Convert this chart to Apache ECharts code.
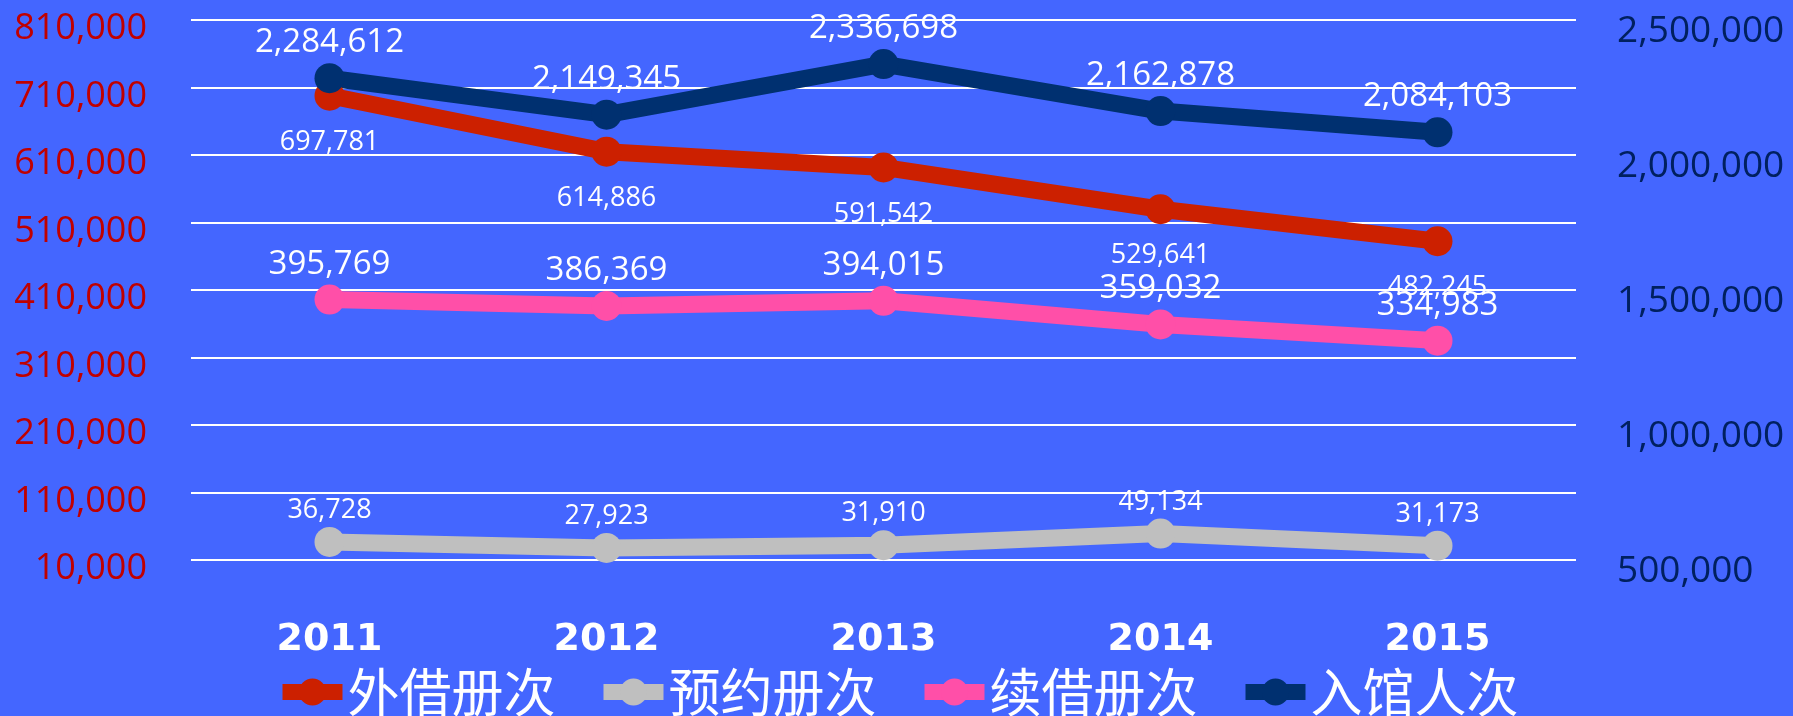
<!DOCTYPE html>
<html>
<head>
<meta charset="utf-8">
<style>
  html, body { margin: 0; padding: 0; background: #4466ff; }
  #chart { width: 1793px; height: 716px; }
</style>
<script src="https://cdn.jsdelivr.net/npm/echarts@6/dist/echarts.min.js"></script>
</head>
<body>
<div id="chart"></div>
<script>
// categories and series
const years = ['2011', '2012', '2013', '2014', '2015'];
const waijie = [697781, 614886, 591542, 529641, 482245];      // 外借册次 (left axis)
const yuyue = [36728, 27923, 31910, 49134, 31173];            // 预约册次 (left axis)
const xujie = [395769, 386369, 394015, 359032, 334983];       // 续借册次 (left axis)
const ruguan = [2284612, 2149345, 2336698, 2162878, 2084103]; // 入馆人次 (right axis)

const seriesNames = ['外借册次', '预约册次', '续借册次', '入馆人次'];

const numFont = '"Open Sans", sans-serif';
const fmt = v => v.toLocaleString('en-US');

function lineSeries(name, data, color, axis, pos, dist, size) {
    return {
        name: name,
        type: 'line',
        yAxisIndex: axis,
        data: data,
        symbol: 'circle',
        symbolSize: 30,
        lineStyle: { color: color, width: 17 },
        itemStyle: { color: color },
        label: {
            show: true,
            position: pos,
            distance: dist,
            color: '#ffffff',
            fontFamily: numFont,
            fontSize: size,
            formatter: p => fmt(p.value)
        },
        emphasis: { disabled: true },
        animation: false
    };
}

// axis labels sit a little below their grid line in the reference,
// so push them down with a padded rich block
function axisLabel(color, size, margin, shift) {
    return {
        margin: margin,
        formatter: v => '{a|' + fmt(v) + '}',
        rich: {
            a: {
                color: color,
                fontSize: size,
                fontFamily: numFont,
                padding: [shift * 2, 0, 0, 0]
            }
        }
    };
}

let chart = echarts.init(document.getElementById('chart'));

let option = {
    backgroundColor: '#4466ff',
    animation: false,
    grid: { left: 191, right: 217, top: 20, bottom: 156 },
    legend: {
        data: seriesNames,
        left: 'center',
        top: 661,
        itemWidth: 60,
        itemHeight: 34,
        itemGap: 40,
        lineStyle: { width: 16 },
        textStyle: { color: '#ffffff', fontSize: 52, fontFamily: '"Noto Sans CJK SC", sans-serif' }
    },
    xAxis: {
        type: 'category',
        data: years,
        axisLine: { show: false },
        axisTick: { show: false },
        axisLabel: {
            margin: 61,
            color: '#ffffff',
            fontSize: 38,
            fontWeight: 'bold',
            fontFamily: '"DejaVu Sans", sans-serif'
        }
    },
    yAxis: [
        {
            type: 'value',
            min: 10000,
            max: 810000,
            interval: 100000,
            axisLine: { show: false },
            axisTick: { show: false },
            splitLine: { lineStyle: { color: '#ffffff', width: 2 } },
            axisLabel: axisLabel('#c00000', 36, 44, 9)
        },
        {
            type: 'value',
            min: 500000,
            max: 2500000,
            interval: 500000,
            axisLine: { show: false },
            axisTick: { show: false },
            splitLine: { show: false },
            axisLabel: axisLabel('#002060', 37, 41, 11)
        }
    ],
    series: [
        lineSeries('外借册次', waijie, '#cc2000', 0, 'bottom', 18, 27),
        lineSeries('预约册次', yuyue, '#bfbfbf', 0, 'top', 3, 27),
        lineSeries('续借册次', xujie, '#ff4fa8', 0, 'top', 4, 33),
        lineSeries('入馆人次', ruguan, '#003070', 1, 'top', 4, 33)
    ]
};

chart.setOption(option);
</script>
</body>
</html>
